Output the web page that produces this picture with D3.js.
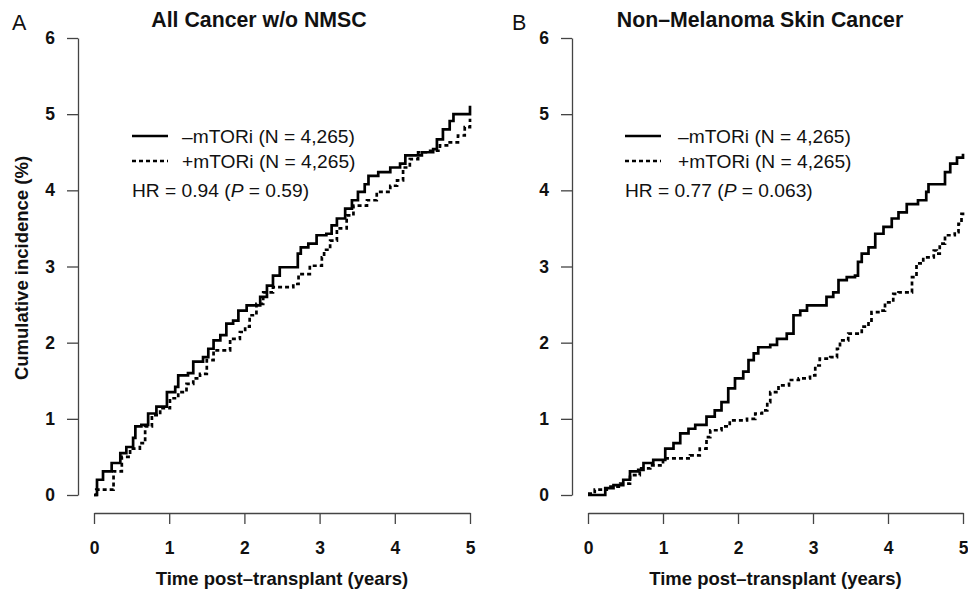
<!DOCTYPE html>
<html><head><meta charset="utf-8">
<script src="https://cdn.jsdelivr.net/npm/d3@7"></script>
<style>
body{margin:0;background:#fff;}
text{font-family:"Liberation Sans",Arial,Helvetica,sans-serif;}
</style></head>
<body><svg id="chart" width="968" height="591"></svg>
<script>
// ---- Data ----
const xTicks = [0,1,2,3,4,5];
const yTicks = [0,1,2,3,4,5,6];
const panelLetters = ["A","B"];
const panelTitles = ["All Cancer w/o NMSC","Non\u2013Melanoma Skin Cancer"];
const seriesNames = ["\u2013mTORi (N = 4,265)","+mTORi (N = 4,265)"];
const hrText = [["HR = 0.94 (","P"," = 0.59)"],["HR = 0.77 (","P"," = 0.063)"]];
const xTitle = "Time post\u2013transplant (years)";
const yTitle = "Cumulative incidence (%)";

// step curves: [time (years), cumulative incidence (%)]
const allCancerMinus = [[0,0],[0.04,0.2],[0.12,0.31],[0.235,0.42],[0.35,0.55],[0.43,0.63],[0.52,0.75],[0.55,0.9],[0.63,0.92],[0.72,1.07],[0.83,1.16],[0.97,1.35],[1.08,1.42],[1.12,1.57],[1.25,1.6],[1.32,1.75],[1.45,1.81],[1.52,1.92],[1.59,2.03],[1.68,2.1],[1.76,2.25],[1.85,2.29],[1.92,2.42],[2.03,2.49],[2.14,2.49],[2.21,2.6],[2.3,2.75],[2.38,2.88],[2.47,2.99],[2.67,2.99],[2.71,3.17],[2.75,3.25],[2.85,3.3],[2.96,3.41],[3.09,3.43],[3.16,3.54],[3.23,3.63],[3.34,3.76],[3.43,3.87],[3.51,3.98],[3.6,4.08],[3.65,4.19],[3.78,4.24],[3.94,4.3],[4.07,4.35],[4.14,4.46],[4.31,4.46],[4.36,4.5],[4.51,4.54],[4.56,4.67],[4.64,4.8],[4.73,4.91],[4.78,5.0],[4.98,5.0],[5.0,5.11]];
const allCancerPlus = [[0,0],[0.03,0.07],[0.17,0.07],[0.26,0.31],[0.37,0.5],[0.48,0.61],[0.61,0.68],[0.68,0.9],[0.77,1.05],[0.88,1.14],[1.01,1.27],[1.12,1.35],[1.23,1.46],[1.32,1.53],[1.41,1.59],[1.5,1.77],[1.59,1.9],[1.72,1.9],[1.81,2.05],[1.94,2.14],[2.01,2.21],[2.07,2.36],[2.16,2.51],[2.25,2.66],[2.38,2.73],[2.65,2.77],[2.72,2.9],[2.87,3.01],[3.03,3.12],[3.06,3.22],[3.14,3.34],[3.23,3.5],[3.36,3.67],[3.45,3.8],[3.63,3.87],[3.76,3.98],[3.94,4.06],[4.03,4.13],[4.11,4.3],[4.2,4.41],[4.31,4.5],[4.47,4.52],[4.6,4.59],[4.73,4.63],[4.84,4.72],[4.93,4.83],[5.0,4.94]];
const nmscMinus = [[0,0],[0.18,0],[0.23,0.09],[0.34,0.13],[0.47,0.2],[0.56,0.31],[0.67,0.33],[0.74,0.42],[0.87,0.46],[1.03,0.61],[1.14,0.68],[1.23,0.81],[1.34,0.87],[1.43,0.92],[1.54,0.92],[1.58,1.03],[1.69,1.11],[1.78,1.22],[1.87,1.4],[1.96,1.53],[2.07,1.62],[2.14,1.77],[2.21,1.86],[2.27,1.94],[2.43,1.97],[2.52,2.05],[2.65,2.12],[2.74,2.36],[2.83,2.42],[2.92,2.49],[3.12,2.49],[3.18,2.6],[3.27,2.66],[3.34,2.82],[3.45,2.86],[3.56,2.88],[3.6,3.06],[3.65,3.17],[3.74,3.25],[3.83,3.43],[3.94,3.52],[4.05,3.63],[4.14,3.71],[4.25,3.82],[4.4,3.87],[4.51,3.98],[4.54,4.08],[4.69,4.08],[4.76,4.24],[4.83,4.35],[4.92,4.43],[5.0,4.48]];
const nmscPlus = [[0,0.02],[0.09,0.07],[0.25,0.11],[0.43,0.15],[0.56,0.26],[0.69,0.35],[0.83,0.39],[1.0,0.48],[1.23,0.48],[1.36,0.52],[1.49,0.61],[1.58,0.76],[1.63,0.85],[1.78,0.9],[1.89,0.98],[2.12,1.0],[2.23,1.07],[2.32,1.11],[2.39,1.22],[2.43,1.35],[2.54,1.44],[2.68,1.51],[2.81,1.53],[2.96,1.57],[3.03,1.7],[3.09,1.79],[3.23,1.81],[3.32,1.92],[3.36,2.03],[3.47,2.12],[3.58,2.12],[3.65,2.21],[3.74,2.29],[3.78,2.4],[3.89,2.42],[3.96,2.53],[4.07,2.64],[4.14,2.66],[4.28,2.66],[4.32,2.86],[4.38,3.04],[4.47,3.12],[4.61,3.21],[4.65,3.17],[4.69,3.3],[4.76,3.41],[4.89,3.45],[4.94,3.56],[4.98,3.69],[5.0,3.74]];

const panelSeries = [[allCancerMinus, allCancerPlus],[nmscMinus, nmscPlus]];

// ---- Layout ----
const panels = [
  {yAxisX:78, x0:94, x1:470, letterX:12, titleX:259, legX:132, txtX:182},
  {yAxisX:572, x0:588, x1:963, letterX:512, titleX:760, legX:625, txtX:678}
];
const yTop = 38, yBot = 495, xAxisY = 513;
const svg = d3.select("#chart");
const axisColor = "#444";
const FONT = "'Liberation Sans',Arial,sans-serif";

panels.forEach((p,i)=>{
  const g = svg.append("g");
  const x = d3.scaleLinear().domain([0,5]).range([p.x0,p.x1]);
  const y = d3.scaleLinear().domain([0,6]).range([yBot,yTop]);

  // y axis
  const ya = g.append("g").attr("transform",`translate(${p.yAxisX},0)`)
    .call(d3.axisLeft(y).tickValues(yTicks).tickFormat(d3.format("d")).tickSize(11).tickSizeOuter(0).tickPadding(12));
  ya.select(".domain").attr("stroke",axisColor).attr("stroke-width",1.3);
  ya.selectAll(".tick line").attr("stroke",axisColor).attr("stroke-width",1.3);
  ya.selectAll(".tick text").attr("font-size",17.5).attr("font-weight","bold").attr("fill","#111")
    .attr("font-family",FONT);

  // x axis
  const xa = g.append("g").attr("transform",`translate(0,${xAxisY})`)
    .call(d3.axisBottom(x).tickValues(xTicks).tickFormat(d3.format("d")).tickSize(11).tickSizeOuter(0).tickPadding(18));
  xa.select(".domain").attr("stroke",axisColor).attr("stroke-width",1.3);
  xa.selectAll(".tick line").attr("stroke",axisColor).attr("stroke-width",1.3);
  xa.selectAll(".tick text").attr("font-size",17.5).attr("font-weight","bold").attr("fill","#111")
    .attr("font-family",FONT);

  // x title
  g.append("text").attr("x",(p.x0+p.x1)/2).attr("y",585).attr("text-anchor","middle")
    .attr("font-size",18.5).attr("font-weight","bold").attr("fill","#111").text(xTitle);

  // panel title & letter
  g.append("text").attr("x",p.titleX).attr("y",27).attr("text-anchor","middle")
    .attr("font-size",21.3).attr("font-weight","bold").attr("fill","#111").text(panelTitles[i]);
  g.append("text").attr("x",p.letterX).attr("y",30)
    .attr("font-size",21.5).attr("fill","#111").text(panelLetters[i]);

  // curves
  const line = d3.line().x(d=>x(d[0])).y(d=>y(d[1])).curve(d3.curveStepAfter);
  panelSeries[i].forEach((s,k)=>{
    g.append("path").datum(s).attr("d",line).attr("fill","none")
      .attr("stroke","#000").attr("stroke-width",2.7)
      .attr("stroke-dasharray", k===0 ? null : "4,3");
  });

  // legend
  seriesNames.forEach((nm,k)=>{
    const ly = 136 + k*25;
    g.append("line").attr("x1",p.legX).attr("x2",p.legX+36).attr("y1",ly).attr("y2",ly)
      .attr("stroke","#000").attr("stroke-width",2.5).attr("stroke-dasharray", k===0?null:"4,3");
    g.append("text").attr("x",p.txtX).attr("y",ly+7).attr("font-size",19.2).attr("fill","#111").text(nm);
  });
  const hr = g.append("text").attr("x",p.legX).attr("y",197).attr("font-size",19.2).attr("fill","#111");
  hr.append("tspan").text(hrText[i][0]);
  hr.append("tspan").attr("font-style","italic").text(hrText[i][1]);
  hr.append("tspan").text(hrText[i][2]);
});

// y title (only left panel)
svg.append("text").attr("transform",`translate(28,268) rotate(-90)`).attr("text-anchor","middle")
  .attr("font-size",18.5).attr("font-weight","bold").attr("fill","#111").text(yTitle);
</script>
</body></html>
